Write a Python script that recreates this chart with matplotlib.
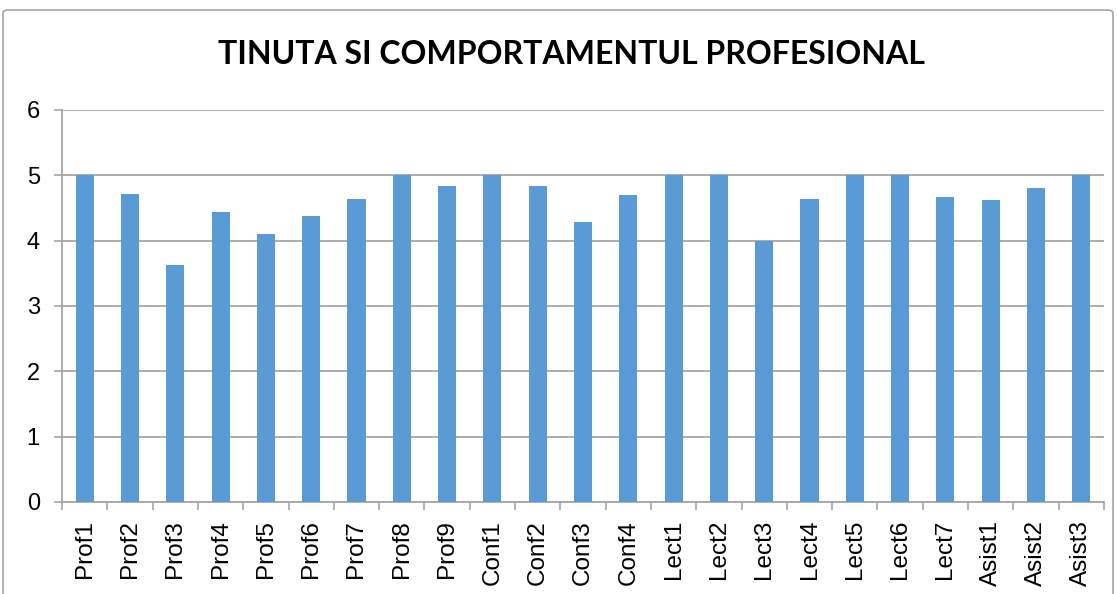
import matplotlib
matplotlib.use("Agg")
import matplotlib.pyplot as plt
from matplotlib.patches import FancyBboxPatch
import numpy as np

categories = ["Prof1", "Prof2", "Prof3", "Prof4", "Prof5", "Prof6", "Prof7", "Prof8", "Prof9",
              "Conf1", "Conf2", "Conf3", "Conf4",
              "Lect1", "Lect2", "Lect3", "Lect4", "Lect5", "Lect6", "Lect7",
              "Asist1", "Asist2", "Asist3"]
values = [5.0, 4.71, 3.62, 4.44, 4.10, 4.37, 4.64, 5.0, 4.83,
          5.0, 4.84, 4.29, 4.70,
          5.0, 5.0, 4.0, 4.64, 5.0, 5.0, 4.67,
          4.63, 4.81, 5.0]
yticks = [0, 1, 2, 3, 4, 5, 6]
title = "TINUTA SI COMPORTAMENTUL PROFESIONAL"

fig = plt.figure(figsize=(11.17, 5.94), dpi=100)
fig.patch.set_facecolor("white")

# outer chart border
border = FancyBboxPatch((3 / 1117, -0.05), 1110 / 1117, 1 - 10 / 594 + 0.05,
                        boxstyle="round,pad=0,rounding_size=0.005",
                        transform=fig.transFigure, facecolor="none",
                        edgecolor="#A6A6A6", linewidth=1.2)
fig.patches.append(border)

ax = fig.add_axes([62 / 1117, 1 - 502 / 594, (1104 - 62) / 1117, (502 - 110) / 594])
x = np.arange(len(categories))
ax.bar(x, values, width=0.4, color="#5B9BD5", zorder=3)

ax.set_xlim(-0.5, len(categories) - 0.5)
ax.set_ylim(0, 6)
ax.set_yticks(yticks)
ax.set_yticklabels([str(v) for v in yticks], fontsize=17, family="Liberation Sans")
ax.yaxis.grid(True, color="#A6A6A6", linewidth=1.3, zorder=0)
ax.set_axisbelow(True)

ax.set_xticks(x)
ax.set_xticklabels(categories, rotation=90, fontsize=17.5, family="Liberation Sans")
ax.set_xticks(np.arange(-0.5, len(categories), 1.0), minor=True)
ax.tick_params(axis="x", which="major", length=0, pad=13)
ax.tick_params(axis="x", which="minor", length=6, color="#A6A6A6", width=1.2)
ax.tick_params(axis="y", length=6, color="#A6A6A6", width=1.2, pad=10)

for s in ["top", "right"]:
    ax.spines[s].set_visible(False)
for s in ["left", "bottom"]:
    ax.spines[s].set_color("#A6A6A6")
    ax.spines[s].set_linewidth(1.3)

fig.text(571 / 1117, 1 - 55 / 594, title, ha="center", va="center",
         fontsize=23, fontweight="bold", family="Lato")

fig.savefig("out.png", dpi=100, facecolor="white")
